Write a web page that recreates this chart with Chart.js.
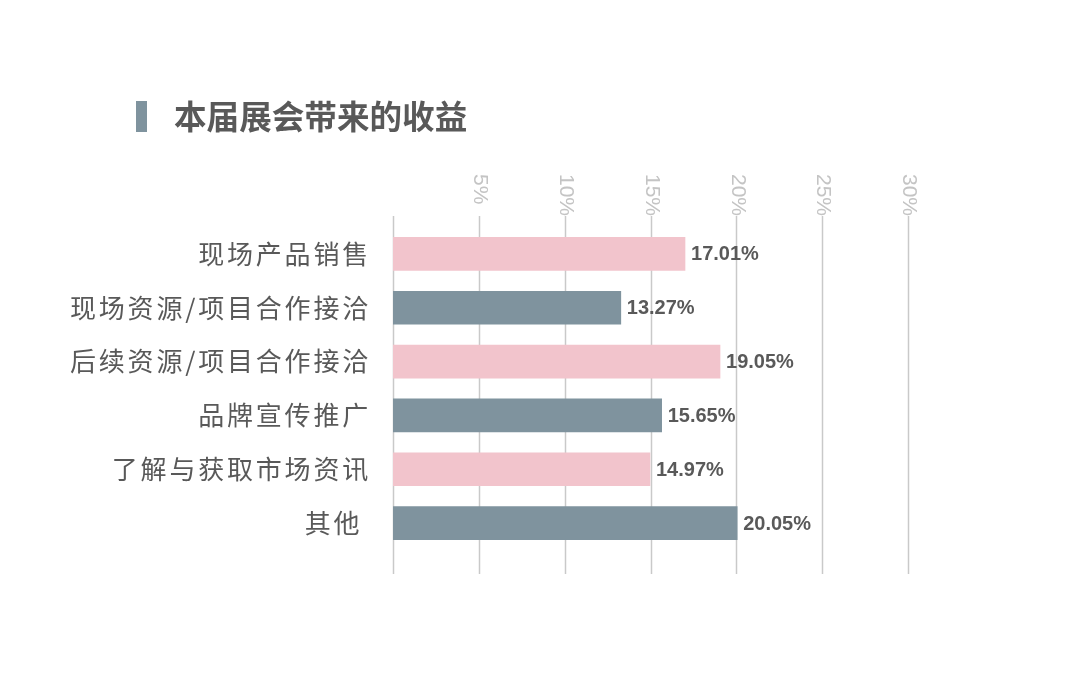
<!DOCTYPE html>
<html>
<head>
<meta charset="utf-8">
<script src="https://cdn.jsdelivr.net/npm/chart.js@4.4.1/dist/chart.umd.min.js"></script>
<style>
    html, body { margin: 0; padding: 0; background: #ffffff; }
    #wrap { position: relative; width: 1080px; height: 689px; }
</style>
</head>
<body>
<div id="wrap"><canvas id="gain_chart"></canvas></div>
<script>

// Data - benefits brought by this exhibition

var title_text = '本届展会带来的收益';
var categories = ['现场产品销售', '现场资源/项目合作接洽', '后续资源/项目合作接洽', '品牌宣传推广', '了解与获取市场资讯', '其他 '];
var shares = [17.01, 13.27, 19.05, 15.65, 14.97, 20.05];
var tick_values = [5, 10, 15, 20, 25, 30];

var bar_colors = ['#f2c4cc', '#7f939e'];
var text_color = '#595959';
var grid_color = '#c9c9c9';


// draws title, rotated % ticks, grid lines and value labels
var decorPlugin = {
    id: 'decor',

    beforeDraw: function(chart) {
        var ctx = chart.ctx;
        ctx.save();
        ctx.fillStyle = '#7f939e';
        ctx.fillRect(136, 101, 11, 31);
        ctx.fillStyle = text_color;
        ctx.font = "bold 32.6px 'Noto Sans CJK SC', sans-serif";
        ctx.textBaseline = 'middle';
        ctx.textAlign = 'left';
        ctx.fillText(title_text, 174, 117);
        ctx.restore();
        ctx.letterSpacing = '2.8px';   // for the y labels
    },

    beforeDatasetsDraw: function(chart) {
        var ctx = chart.ctx;
        var xs = chart.scales.x;
        ctx.letterSpacing = '0px';
        ctx.save();
        ctx.strokeStyle = grid_color;
        ctx.lineWidth = 1.5;
        var all = [0].concat(tick_values);
        for (var i = 0; i < all.length; i++) {
            var x = Math.round(xs.getPixelForValue(all[i])) + 0.5;
            ctx.beginPath();
            ctx.moveTo(x, 216);
            ctx.lineTo(x, 574);
            ctx.stroke();
        }
        ctx.fillStyle = '#c4c4c4';
        ctx.font = "21px 'Liberation Sans', Arial, sans-serif";
        ctx.textBaseline = 'middle';
        ctx.textAlign = 'left';
        for (var j = 0; j < tick_values.length; j++) {
            var tx = xs.getPixelForValue(tick_values[j]) + 1;
            ctx.save();
            ctx.translate(tx, 174);
            ctx.rotate(Math.PI / 2);
            ctx.fillText(tick_values[j] + '%', 0, 0);
            ctx.restore();
        }
        ctx.restore();
    },

    afterDatasetsDraw: function(chart) {
        var ctx = chart.ctx;
        var meta = chart.getDatasetMeta(0);
        ctx.save();
        ctx.fillStyle = text_color;
        ctx.font = "bold 20px 'Liberation Sans', Arial, sans-serif";
        ctx.textBaseline = 'middle';
        ctx.textAlign = 'left';
        for (var i = 0; i < meta.data.length; i++) {
            var bar = meta.data[i];
            ctx.fillText(shares[i].toFixed(2) + '%', bar.x + 6, bar.y + 1);
        }
        ctx.restore();
    }
};


var ctx = document.getElementById('gain_chart').getContext('2d');

var gain_chart = new Chart(ctx, {
    type: 'bar',

    data: {
        labels: categories,
        datasets: [{
            data: shares,
            backgroundColor: categories.map(function(c, i) { return bar_colors[i % 2]; }),
            borderWidth: 0,
            barThickness: 33,
        }],
    },

    options: {
        indexAxis: 'y',
        responsive: true,
        maintainAspectRatio: false,
        animation: false,
        devicePixelRatio: 1,

        layout: {
            padding: { top: 219, bottom: 139, left: 0, right: 172 },},

        scales: {
            x: {
                type: 'linear',
                position: 'top',
                min: 0,
                max: 30,
                ticks: { display: false, stepSize: 5 },
                grid: { display: false },
                border: { display: false },},
            y: {
                ticks: {
                    color: text_color,
                    padding: 22,
                    font: { size: 26, family: "'Noto Sans CJK SC', sans-serif" },},
                grid: { display: false, drawTicks: false },
                border: { display: false },
                afterFit: function(scale) { scale.width = 393; },},},

        plugins: {
            legend: { display: false },
            tooltip: { enabled: false },
            title: { display: false },},
    },

    plugins: [decorPlugin],
});

</script>
</body>
</html>
